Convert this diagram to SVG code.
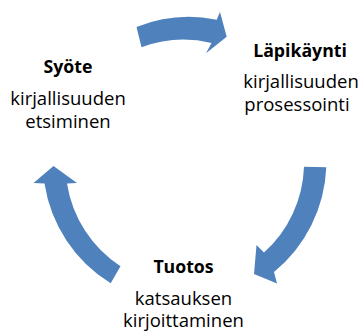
<svg xmlns="http://www.w3.org/2000/svg" width="359" height="332" viewBox="0 0 359 332">
<style>
.arr{fill:#4F81BD;stroke:none}
text{font-family:"Open Sans","Liberation Sans",sans-serif;fill:#000;text-anchor:middle}
.t{font-weight:bold;font-size:17.7px}
.s{font-size:18.5px}
</style>
<rect width="359" height="332" fill="#fff"/>
<g id="connectors">
<path class="arr" d="M136.5,27 A142,142 0 0 1 216.7,19.7 L220,12 L226.7,36.7 L206,53.3 L211.5,43 A120,120 0 0 0 141.5,47.3 Z"/>
<path class="arr" d="M326.3,167.3 A143,143 0 0 1 274,272 L277,283.5 L254,274 L256.5,245 L264,252.5 A121,121 0 0 0 304,166.7 Z"/>
<path class="arr" d="M110.7,283.2 A142.5,142.5 0 0 1 44.5,183.5 L33.5,183 L53.5,166 L77,183 L67,183.5 A121.5,121.5 0 0 0 120.5,266.3 Z"/>
</g>
<g id="syote">
<text class="t" x="68" y="73">Syöte</text>
<text class="s" x="68" y="105">kirjallisuuden</text>
<text class="s" x="68" y="128">etsiminen</text>
</g>
<g id="lapikaynti">
<text class="t" x="300" y="56.5">Läpikäynti</text>
<text class="s" x="301" y="88.3">kirjallisuuden</text>
<text class="s" x="297" y="111">prosessointi</text>
</g>
<g id="tuotos">
<text class="t" x="183.5" y="273">Tuotos</text>
<text class="s" x="183.5" y="305">katsauksen</text>
<text class="s" x="183.5" y="326.5">kirjoittaminen</text>
</g>
</svg>
